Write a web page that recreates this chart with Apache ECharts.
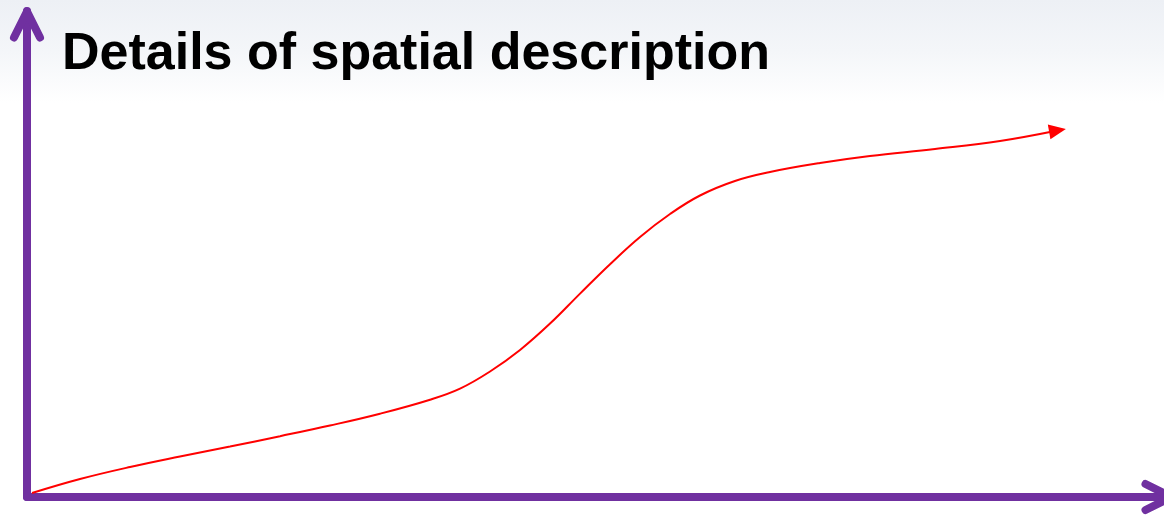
<!DOCTYPE html>
<html>
<head>
<meta charset="utf-8">
<script src="https://cdn.jsdelivr.net/npm/echarts@6/dist/echarts.min.js"></script>
<style>
  html, body { margin: 0; padding: 0; background: #fff; }
  #chart { width: 1164px; height: 515px; }
</style>
</head>
<body>
<div id="chart"></div>
<script>
// Data, arbitrary units 0..100 on both axes
const titleText = 'Details of spatial description';
const curveX = [0.44, 4.63, 9.00, 13.36, 17.73, 22.10, 26.46, 30.83, 35.20, 37.82, 40.44, 43.06, 45.68, 48.30, 50.92, 53.54, 56.16, 58.78, 61.83, 64.89, 69.26, 73.62, 79.30, 84.98, 90.0];
const curveY = [0.82, 3.70, 6.17, 8.33, 10.39, 12.51, 14.71, 17.14, 20.02, 22.30, 25.82, 30.25, 35.68, 41.85, 47.90, 53.50, 58.23, 62.04, 65.02, 66.87, 68.72, 70.16, 71.60, 73.25, 75.41];

const purple = '#7030A0';
// open chevron arrow head (pointing up) used at the end of both axes
const chevron = 'path://M0.42 28.21 L13.42 2.21 A4 4 0 0 1 20.58 2.21 L33.58 28.21 A4 4 0 0 1 26.42 31.79 L17 12.95 L7.58 31.79 A4 4 0 0 1 0.42 28.21 Z';

const curveData = curveX.map(function (x, i) {
  const isLast = i === curveX.length - 1;
  if (isLast) {
    return { value: [x, curveY[i]], symbol: 'triangle', symbolSize: [15, 17], symbolRotate: -80 };
  }
  return { value: [x, curveY[i]] };
});

const chart = echarts.init(document.getElementById('chart'), null, { renderer: 'canvas' });
chart.setOption({
  animation: false,
  backgroundColor: {
    type: 'linear', x: 0, y: 0, x2: 0, y2: 1,
    colorStops: [
      { offset: 0, color: '#EDF0F5' },
      { offset: 0.1, color: '#F4F6F9' },
      { offset: 0.2, color: '#FFFFFF' },
      { offset: 1, color: '#FFFFFF' }
    ]
  },
  title: {
    text: titleText,
    left: 57,
    top: 24,
    textStyle: {
      fontFamily: '"Liberation Sans", Arial, sans-serif',
      fontWeight: 'bold',
      fontSize: 52,
      color: '#000000'
    }
  },
  grid: { left: 27, width: 1145, top: 11, bottom: 18, containLabel: false, outerBoundsMode: 'none' },
  xAxis: {
    type: 'value', min: 0, max: 100,
    axisLine: {
      show: true, onZero: false,
      lineStyle: { color: purple, width: 8 },
      symbol: ['none', chevron],
      symbolSize: [34, 35],
      symbolOffset: [0, -13.5]
    },
    axisTick: { show: false }, axisLabel: { show: false }, splitLine: { show: false }
  },
  yAxis: {
    type: 'value', min: 0, max: 100,
    axisLine: {
      show: true, onZero: false,
      lineStyle: { color: purple, width: 8 },
      symbol: ['none', chevron],
      symbolSize: [34, 35],
      symbolOffset: [0, -13.5]
    },
    axisTick: { show: false }, axisLabel: { show: false }, splitLine: { show: false }
  },
  series: [{
    type: 'line',
    data: curveData,
    smooth: 0.4,
    symbol: 'none',
    clip: false,
    silent: true,
    z: 5,
    lineStyle: { color: '#FF0000', width: 2 },
    itemStyle: { color: '#FF0000' }
  }]
});
</script>
</body>
</html>
